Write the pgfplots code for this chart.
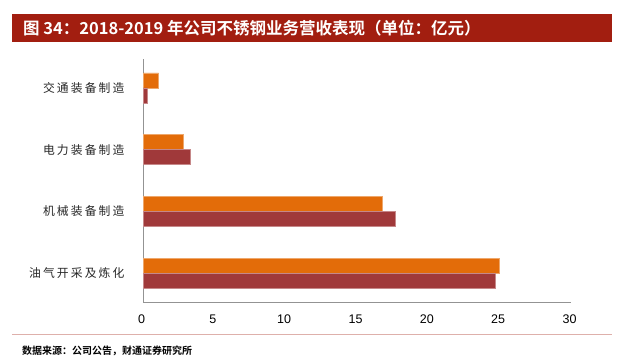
\documentclass[border=0pt]{standalone}
\usepackage{pgfplots}
\pgfplotsset{compat=1.18}
\usepackage{fontspec}
\setmainfont{Liberation Sans}
\newfontfamily\cjk{Noto Sans CJK SC}
\newfontfamily\cjkls[LetterSpace=18]{Noto Sans CJK SC}
\newfontfamily\cjkb{Noto Sans CJK SC Bold}
\definecolor{barO}{HTML}{E36C09}
\definecolor{barR}{HTML}{A0393A}
\definecolor{titleR}{HTML}{A21E10}
\begin{document}
\begin{tikzpicture}
\path[use as bounding box] (0pt,0pt) rectangle (621pt,-364pt);
% title bar
\fill[titleR] (12pt,-14pt) rectangle (612pt,-42pt);
\node[anchor=west, text=white, inner sep=0pt] at (23pt,-28.5pt) {\cjkb\fontsize{16.5}{18}\selectfont 图 34：2018-2019 年公司不锈钢业务营收表现（单位：亿元）};
\begin{axis}[
  at={(143pt,-302pt)}, anchor=south west,
  scale only axis, width=428pt, height=243pt,
  xbar, bar width=15pt,
  xmin=0, xmax=30, ymin=-0.47, ymax=3.47,
  axis x line=bottom, axis y line=left,
  axis line style={-, draw=gray!85, line width=0.8pt},
  major tick length=0pt,
  xtick={0,5,10,15,20,25,30},
  ytick={0,1,2,3},
  yticklabels={油气开采及炼化,机械装备制造,电力装备制造,交通装备制造},
  yticklabel style={font=\cjkls\fontsize{11.8}{14}\selectfont, text=black!85, xshift=-15pt},
  xticklabel style={font=\fontsize{12.5}{14}\selectfont, yshift=-9pt, xshift=-1.5pt},
  /pgf/number format/assume math mode=true,
  clip=false,
]
\addplot[fill=barO, draw=barO!60!white, line width=0.6pt, bar shift=7.5pt] coordinates {(25.0,0) (16.8,1) (2.8,2) (1.1,3)};
\addplot[fill=barR, draw=barR!60!white, line width=0.6pt, bar shift=-7.5pt] coordinates {(24.7,0) (17.7,1) (3.3,2) (0.3,3)};
\end{axis}
\draw[color=titleR!35!white, line width=0.8pt] (12pt,-334.5pt) -- (612pt,-334.5pt);
\node[anchor=west, inner sep=0pt] at (22pt,-351pt) {\cjkb\fontsize{10}{12}\selectfont 数据来源：公司公告，财通证券研究所};
\end{tikzpicture}
\end{document}
